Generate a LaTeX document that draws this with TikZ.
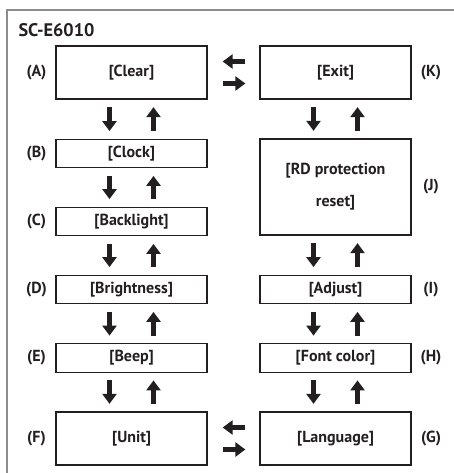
\documentclass[tikz,border=0pt]{standalone}
\usepackage{fontspec}
\setmainfont{PT Sans}
\usetikzlibrary{arrows.meta}
\definecolor{ink}{HTML}{231F20}
\definecolor{framegray}{HTML}{8C8C8C}
\tikzset{
  box/.style={draw=ink, line width=1.3pt, inner sep=0pt, minimum width=151pt,
    text=ink, font=\fontsize{16}{32}\selectfont\bfseries, align=center},
  smallbox/.style={box, minimum height=28.5pt},
  bigbox/.style={box, minimum height=53pt},
  lbl/.style={text=ink, font=\fontsize{16}{19}\selectfont\bfseries, inner sep=0pt},
  blk/.style={draw=ink, line width=5pt,
    -{Triangle[length=10pt,width=14pt]}},
}
\begin{document}
\begin{tikzpicture}[x=1pt,y=-1pt]
\useasboundingbox (0,0) rectangle (454,473);
\draw[framegray, line width=1.5pt] (7,473) -- (7,10) -- (454,10);
\node[lbl, anchor=base west, font=\fontsize{18.2}{20}\selectfont\bfseries] (title) at (18.3,36.7) {SC-E6010};
% left column
\node[bigbox]   (A) at (131.5,72.5)  {[Clear]};
\node[smallbox] (B) at (131.5,153.5) {[Clock]};
\node[smallbox] (C) at (131.5,221.5) {[Backlight]};
\node[smallbox] (D) at (131.5,289.5) {[Brightness]};
\node[smallbox] (E) at (131.5,358)   {[Beep]};
\node[bigbox]   (F) at (131.5,438.5) {[Unit]};
% right column
\node[bigbox]   (K) at (335.5,72.5)  {[Exit]};
\node[box, minimum height=96pt] (J) at (335.5,187) {[RD protection\\reset]};
\node[smallbox] (I) at (335.5,289.5) {[Adjust]};
\node[smallbox] (H) at (335.5,358)   {[Font color]};
\node[bigbox]   (G) at (335.5,438.5) {[Language]};
% labels
\node[lbl] (lA) at (36.5,72.5)  {(A)};
\node[lbl] (lB) at (36.5,153.5) {(B)};
\node[lbl] (lC) at (36.5,221.5) {(C)};
\node[lbl] (lD) at (36.5,289.5) {(D)};
\node[lbl] (lE) at (36.5,358)   {(E)};
\node[lbl] (lF) at (36.5,438.5) {(F)};
\node[lbl] (lK) at (431,72.5)  {(K)};
\node[lbl] (lJ) at (431,187)   {(J)};
\node[lbl] (lI) at (431,289.5) {(I)};
\node[lbl] (lH) at (431,358)   {(H)};
\node[lbl] (lG) at (431,438.5) {(G)};
% vertical arrows
\foreach \u/\l in {A/B,B/C,C/D,D/E,E/F,K/J,J/I,I/H,H/G}{
  \draw[blk] ([xshift=-22pt,yshift=-7.5pt]\u.south) -- ([xshift=-22pt,yshift=7.5pt]\l.north);
  \draw[blk] ([xshift=22pt,yshift=7.5pt]\l.north) -- ([xshift=22pt,yshift=-7.5pt]\u.south);
}
% horizontal arrows (upper one points left, lower one points right)
\draw[blk] ([xshift=-14pt,yshift=11pt]K.west) -- ([xshift=15pt,yshift=11pt]A.east);
\draw[blk] ([xshift=15pt,yshift=-11pt]A.east) -- ([xshift=-14pt,yshift=-11pt]K.west);
\draw[blk] ([xshift=-14pt,yshift=11pt]G.west) -- ([xshift=15pt,yshift=11pt]F.east);
\draw[blk] ([xshift=15pt,yshift=-11pt]F.east) -- ([xshift=-14pt,yshift=-11pt]G.west);
\end{tikzpicture}
\end{document}
